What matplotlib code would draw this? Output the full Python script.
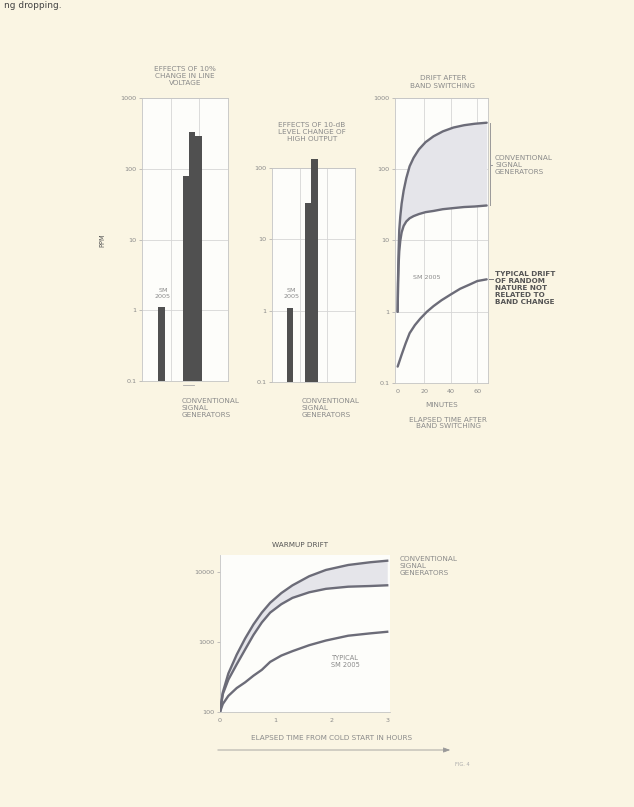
import matplotlib
matplotlib.use("Agg")
import matplotlib.pyplot as plt
from matplotlib.patches import FancyArrowPatch
from matplotlib.ticker import NullLocator

# ---- data -------------------------------------------------------------
# line-voltage panel (ppm)
line_sm_pos = [0.68]
line_sm_val = [1.0]
line_conv_pos = [1.53, 1.75, 1.97]
line_conv_val = [80, 330, 290]

# 10-dB level change panel (ppm)
level_sm_pos = [0.65]
level_sm_val = [1.0]
level_conv_pos = [1.30, 1.55]
level_conv_val = [32, 135]

# drift after band switching (minutes, ppm)
band_min = [0, 0.3, 0.7, 1.2, 2, 3, 4.5, 6.5, 9, 12, 16, 21, 27, 34, 42, 50, 58, 67]
band_conv_hi = [1, 3, 7, 14, 22, 33, 50, 75, 110, 145, 190, 240, 290, 340, 385, 415, 435, 450]
band_conv_lo = [1, 2.5, 4.5, 7, 10, 13, 16, 18.5, 20.5, 22, 23.5, 25, 26, 27.5, 28.5, 29.5, 30, 31]
band_sm_min = [0, 3, 6, 9, 13, 17, 22, 27, 33, 40, 47, 54, 60, 67]
band_sm = [0.17, 0.25, 0.36, 0.5, 0.65, 0.8, 1.0, 1.2, 1.45, 1.75, 2.1, 2.4, 2.7, 2.85]

# warmup drift (hours, ppm)
warm_hr = [0, 0.05, 0.15, 0.3, 0.45, 0.6, 0.75, 0.9, 1.1, 1.3, 1.6, 1.9, 2.3, 2.7, 3.0]
warm_conv_hi = [100, 190, 355, 660, 1120, 1780, 2630, 3630, 5000, 6450, 8700,
                10700, 12600, 13800, 14500]
warm_conv_lo = [100, 180, 290, 480, 780, 1260, 1900, 2630, 3470, 4270, 5130,
                5750, 6170, 6310, 6460]
warm_sm = [100, 130, 170, 220, 265, 330, 400, 520, 640, 740, 900,
           1050, 1230, 1330, 1400]

ppm_ticks = [0.1, 1, 10, 100, 1000]
ppm_labels = ["0.1", "1", "10", "100", "1000"]
warm_ticks = [100, 1000, 10000]
warm_labels = ["100", "1000", "10000"]
band_xticks = [0, 20, 40, 60]
warm_xticks = [0, 1, 2, 3]

# ---- style ------------------------------------------------------------
BG = "#faf5e3"
PANEL = "#fdfdfa"
TXT = "#8a8a8a"
DARK = "#555555"
BAR = "#505050"
CURVE = "#6c6c78"
SHADE = "#e5e5ea"
GRID = "#d6d6d6"
FS = 5.2

W, H = 634, 807


def fx(x):
    return x / W


def fy(y):
    return 1 - y / H


fig = plt.figure(figsize=(W / 100, H / 100), dpi=100, facecolor=BG)


def make_axes(left, top, right, bottom):
    ax = fig.add_axes([fx(left), fy(bottom), (right - left) / W, (bottom - top) / H])
    ax.set_facecolor(PANEL)
    for s in ax.spines.values():
        s.set_color("#c4c4c4")
        s.set_linewidth(0.6)
    ax.tick_params(colors="#aaaaaa", labelcolor=TXT, labelsize=FS - 0.6,
                   length=2, width=0.5, pad=2)
    ax.set_yscale("log")
    ax.yaxis.set_minor_locator(NullLocator())
    return ax


def ppm_axis(ax, top):
    ticks = [t for t in ppm_ticks if t <= top]
    labels = [l for t, l in zip(ppm_ticks, ppm_labels) if t <= top]
    ax.set_ylim(0.1, top)
    ax.set_yticks(ticks, labels)
    ax.yaxis.set_minor_locator(NullLocator())
    for t in ticks:
        ax.axhline(t, color=GRID, lw=0.6, zorder=0)


# ---- panel 1: line voltage -------------------------------------------
ax1 = make_axes(142, 98, 228, 381)
ppm_axis(ax1, 1000)
ax1.set_xlim(0, 3)
ax1.set_xticks([])
for xv in (1, 2):
    ax1.axvline(xv, color=GRID, lw=0.6, zorder=0)
ax1.bar(line_sm_pos, line_sm_val, width=0.24, bottom=0.1, color=BAR, zorder=3)
ax1.bar(line_conv_pos, [v - 0.1 for v in line_conv_val], width=0.22,
        bottom=0.1, color=BAR, zorder=3)
ax1.text(line_sm_pos[0] + 0.05, line_sm_val[0] * 1.45, "SM\n2005", ha="center",
         va="bottom", fontsize=FS - 0.6, color=TXT, linespacing=1.2)
ax1.plot([1.42, 1.8], [0.087, 0.087], color="#aaaaaa", lw=0.6, clip_on=False)
fig.text(fx(185), fy(76), "EFFECTS OF 10%\nCHANGE IN LINE\nVOLTAGE", ha="center",
         va="center", fontsize=FS, color=TXT, linespacing=1.2)
fig.text(fx(182), fy(408), "CONVENTIONAL\nSIGNAL\nGENERATORS", ha="left",
         va="center", fontsize=FS, color=TXT, linespacing=1.25)
fig.text(fx(102), fy(240), "PPM", rotation=90, ha="center", va="center",
         fontsize=FS - 0.4, color=DARK)

# ---- panel 2: 10-dB level change -------------------------------------
ax2 = make_axes(272, 168, 355, 382)
ppm_axis(ax2, 100)
ax2.set_xlim(0, 3)
ax2.set_xticks([])
for xv in (1, 2):
    ax2.axvline(xv, color=GRID, lw=0.6, zorder=0)
ax2.bar(level_sm_pos, level_sm_val, width=0.22, bottom=0.1, color=BAR, zorder=3)
ax2.bar(level_conv_pos, [v - 0.1 for v in level_conv_val], width=0.25,
        bottom=0.1, color=BAR, zorder=3, clip_on=False)
ax2.text(level_sm_pos[0] + 0.05, level_sm_val[0] * 1.45, "SM\n2005", ha="center",
         va="bottom", fontsize=FS - 0.6, color=TXT, linespacing=1.2)
fig.text(fx(312), fy(132), "EFFECTS OF 10-dB\nLEVEL CHANGE OF\nHIGH OUTPUT",
         ha="center", va="center", fontsize=FS, color=TXT, linespacing=1.2)
fig.text(fx(302), fy(408), "CONVENTIONAL\nSIGNAL\nGENERATORS", ha="left",
         va="center", fontsize=FS, color=TXT, linespacing=1.25)

# ---- panel 3: drift after band switching -----------------------------
ax3 = make_axes(395, 98, 488, 383)
ppm_axis(ax3, 1000)
ax3.set_xlim(-2, 68)
ax3.set_xticks(band_xticks, [str(v) for v in band_xticks])
ax3.tick_params(axis="x", length=0, pad=4)
for xv in band_xticks[1:]:
    ax3.axvline(xv, color=GRID, lw=0.6, zorder=0)
ax3.fill_between(band_min, band_conv_lo, band_conv_hi, color=SHADE, lw=0, zorder=1)
for series in (band_conv_hi, band_conv_lo):
    ax3.plot(band_min, series, color=CURVE, lw=1.7, zorder=3,
             solid_capstyle="round")
ax3.plot(band_sm_min, band_sm, color=CURVE, lw=1.7, zorder=3,
         solid_capstyle="round")
ax3.text(22, 3.0, "SM 2005", ha="center", va="center", fontsize=FS - 0.6, color=TXT)
# brace grouping the two conventional curves
ax3.plot([69.5, 69.5], [band_conv_lo[-1], band_conv_hi[-1]], color="#999999",
         lw=0.7, clip_on=False)
ax3.plot([69.5, 71], [115, 115], color="#999999", lw=0.7, clip_on=False)
ax3.plot([68.5, 71.5], [band_sm[-1], band_sm[-1]], color="#777777", lw=0.7,
         clip_on=False)
fig.text(fx(443), fy(82), "DRIFT AFTER\nBAND SWITCHING", ha="center", va="center",
         fontsize=FS, color=TXT, linespacing=1.2)
fig.text(fx(442), fy(405), "MINUTES", ha="center", va="center", fontsize=FS,
         color=TXT)
fig.text(fx(448), fy(423), "ELAPSED TIME AFTER\nBAND SWITCHING", ha="center",
         va="center", fontsize=FS, color=TXT, linespacing=1.2)
fig.text(fx(495), fy(165), "CONVENTIONAL\nSIGNAL\nGENERATORS", ha="left",
         va="center", fontsize=FS, color=TXT, linespacing=1.25)
fig.text(fx(495), fy(288), "TYPICAL DRIFT\nOF RANDOM\nNATURE NOT\nRELATED TO\nBAND CHANGE",
         ha="left", va="center", fontsize=FS, color=DARK, fontweight="bold",
         linespacing=1.25)

# ---- panel 4: warmup drift -------------------------------------------
ax4 = make_axes(220, 555, 390, 712)
ax4.set_ylim(100, 17500)
ax4.set_yticks(warm_ticks, warm_labels)
ax4.yaxis.set_minor_locator(NullLocator())
ax4.set_xlim(0, 3.05)
ax4.set_xticks(warm_xticks, [str(v) for v in warm_xticks])
ax4.tick_params(axis="x", length=0, pad=4)
ax4.spines["top"].set_visible(False)
ax4.spines["right"].set_visible(False)
ax4.fill_between(warm_hr, warm_conv_lo, warm_conv_hi, color=SHADE, lw=0, zorder=1)
for series in (warm_conv_hi, warm_conv_lo, warm_sm):
    ax4.plot(warm_hr, series, color=CURVE, lw=1.7, zorder=3)
ax4.text(2.25, 520, "TYPICAL\nSM 2005", ha="center", va="center", fontsize=FS - 0.4,
         color=TXT, linespacing=1.2)
fig.text(fx(300), fy(545), "WARMUP DRIFT", ha="center", va="center", fontsize=FS,
         color=DARK)
fig.text(fx(400), fy(566), "CONVENTIONAL\nSIGNAL\nGENERATORS", ha="left",
         va="center", fontsize=FS, color=TXT, linespacing=1.25)
fig.text(fx(332), fy(738), "ELAPSED TIME FROM COLD START IN HOURS", ha="center",
         va="center", fontsize=FS, color=TXT)
fig.add_artist(FancyArrowPatch(
    (fx(215), fy(750)), (fx(453), fy(750)), transform=fig.transFigure,
    arrowstyle="-|>,head_length=4,head_width=1.5", color="#999999", lw=0.6))
fig.text(fx(462), fy(765), "FIG. 4", ha="center", va="center", fontsize=FS - 1.5,
         color="#aaaaaa")
fig.text(fx(4), fy(6), "ng dropping.", ha="left", va="center", fontsize=6.5,
         color="#444444")

fig.savefig("out.png", dpi=100, facecolor=BG)
